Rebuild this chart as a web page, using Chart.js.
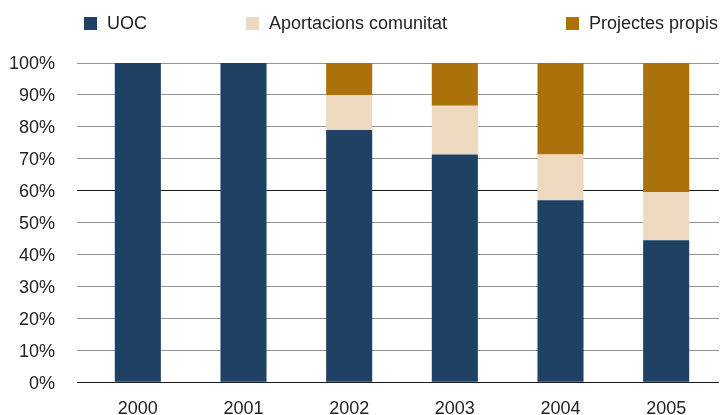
<!DOCTYPE html>
<html>
<head>
<meta charset="utf-8">
<script src="https://cdn.jsdelivr.net/npm/chart.js@4.4.1/dist/chart.umd.min.js"></script>
<style>
  html, body { margin: 0; padding: 0; background: #fff; }
  #wrap { width: 723px; height: 415px; position: relative; }
</style>
</head>
<body>
<div id="wrap"><canvas id="c" width="723" height="415"></canvas></div>
<script>
const categories = ['2000', '2001', '2002', '2003', '2004', '2005'];
const seriesNames = ['UOC', 'Aportacions comunitat', 'Projectes propis'];
const uoc = [100, 100, 79, 71.3, 57, 44.5];
const aportacions = [0, 0, 11, 15.3, 14.3, 15];
const projectes = [0, 0, 10, 13.4, 28.7, 40.5];
const yTicks = [0, 10, 20, 30, 40, 50, 60, 70, 80, 90, 100];

const colors = ['#1f4163', '#edd9c0', '#ab720b'];
const FONT = '"Liberation Sans", Arial, Helvetica, sans-serif';
const legendX = [84, 246, 566];

const customLegend = {
  id: 'customLegend',
  afterDraw(chart) {
    const ctx = chart.ctx;
    ctx.save();
    ctx.font = '18px ' + FONT;
    ctx.textBaseline = 'middle';
    ctx.textAlign = 'left';
    chart.data.datasets.forEach((ds, i) => {
      const x = legendX[i];
      ctx.fillStyle = ds.backgroundColor;
      ctx.fillRect(x, 17, 13, 13);
      ctx.fillStyle = '#222';
      ctx.fillText(ds.label, x + 23, 24);
    });
    ctx.restore();
  }
};

new Chart(document.getElementById('c'), {
  type: 'bar',
  data: {
    labels: categories,
    datasets: [
      { label: seriesNames[0], data: uoc, backgroundColor: colors[0] },
      { label: seriesNames[1], data: aportacions, backgroundColor: colors[1] },
      { label: seriesNames[2], data: projectes, backgroundColor: colors[2] }
    ]
  },
  options: {
    responsive: false,
    animation: false,
    layout: { padding: { top: 63, right: 4, left: 0, bottom: 0 } },
    datasets: { bar: { categoryPercentage: 1, barPercentage: 0.436, borderWidth: 0 } },
    plugins: { legend: { display: false }, tooltip: { enabled: false } },
    scales: {
      x: {
        stacked: true,
        grid: { display: false },
        border: { display: false },
        ticks: { color: '#222', font: { family: FONT, size: 18 }, padding: 8 },
        afterFit(scale) { scale.height = 32; }
      },
      y: {
        stacked: true,
        min: 0,
        max: 100,
        afterBuildTicks(scale) { scale.ticks = yTicks.map(v => ({ value: v })); },
        border: { display: false },
        grid: {
          tickLength: 8,
          lineWidth: 1,
          color: (c) => (c.tick && (c.tick.value === 60 || c.tick.value === 0)) ? '#1a1a1a' : '#939393'
        },
        ticks: {
          color: '#222',
          font: { family: FONT, size: 18 },
          padding: 22,
          labelOffset: 1.5,
          callback: (v) => v + '%'
        },
        afterFit(scale) { scale.width = 85; }
      }
    }
  },
  plugins: [customLegend]
});
</script>
</body>
</html>
